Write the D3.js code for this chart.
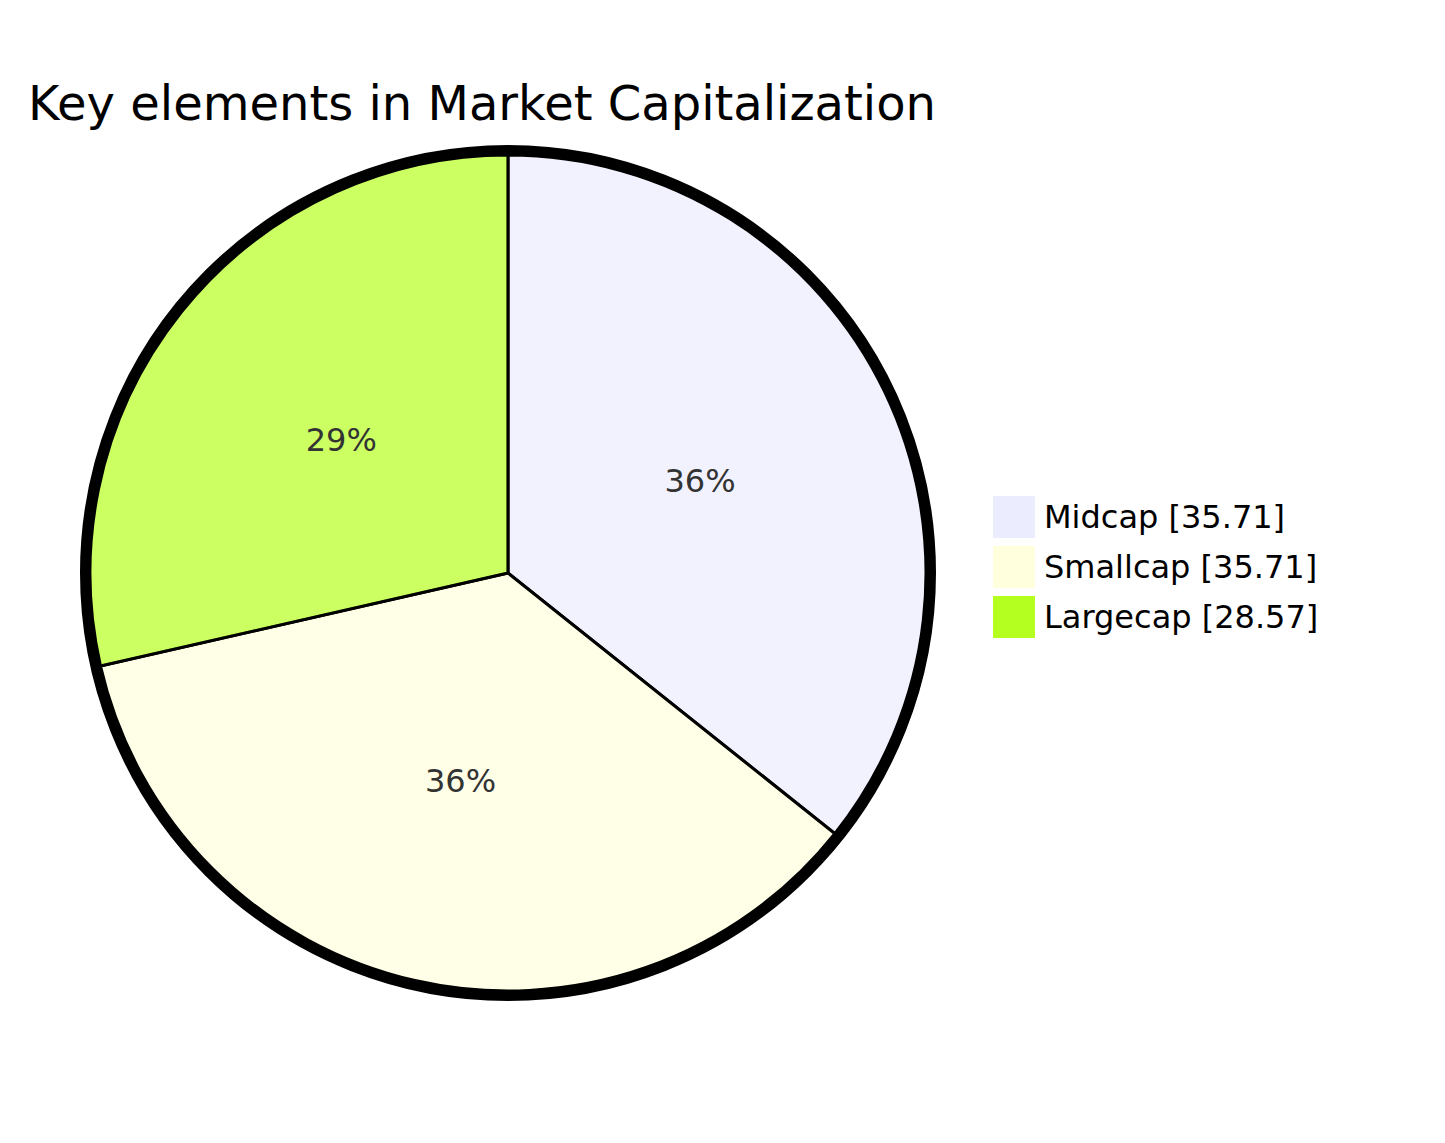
<!DOCTYPE html>
<html><head><meta charset="utf-8">
<script src="https://cdn.jsdelivr.net/npm/d3@7"></script>
<style>body{margin:0;background:#fff}svg{font-family:"DejaVu Sans",sans-serif}</style>
</head><body>
<svg id="chart" width="1445" height="1143"></svg>
<script>
// pie data
let labels = ["Midcap", "Smallcap", "Largecap"];
let values = [35.71, 35.71, 28.57];
let colors = ["#ececff", "#ffffde", "#b5ff20"];

let svg = d3.select('#chart');
let cx = 508, cy = 573, r = 418;

svg.append('text').attr('x', 28).attr('y', 120)
  .attr('font-size', 48).attr('fill', '#000')
  .text('Key elements in Market Capitalization');

let g = svg.append('g').attr('transform', `translate(${cx},${cy})`);
g.append('circle').attr('r', r + 5).attr('fill', 'none')
  .attr('stroke', '#000').attr('stroke-width', 10);

let data = labels.map((l, i) => ({label: l, value: values[i], color: colors[i]}));
let pie = d3.pie().value(d => d.value).sort(null);
let arc = d3.arc().innerRadius(0).outerRadius(r);
let labelArc = d3.arc().innerRadius(r * 0.51).outerRadius(r * 0.51);
let total = d3.sum(values);

g.selectAll('path.slice').data(pie(data)).join('path')
  .attr('d', arc).attr('fill', d => d.data.color).attr('fill-opacity', 0.7)
  .attr('stroke', '#000').attr('stroke-width', 3);

g.selectAll('text.pct').data(pie(data)).join('text')
  .attr('transform', d => `translate(${labelArc.centroid(d)})`)
  .attr('text-anchor', 'middle').attr('dy', '0.35em')
  .attr('font-size', 32).attr('fill', '#333')
  .text(d => Math.round(d.data.value / total * 100) + '%');

let lg = svg.append('g').attr('transform', 'translate(993,496)');
let item = lg.selectAll('g').data(data).join('g')
  .attr('transform', (d, i) => `translate(0,${i * 50})`);
item.append('rect').attr('width', 42).attr('height', 42).attr('fill', d => d.color);
item.append('text').attr('x', 51).attr('y', 21).attr('dy', '0.35em')
  .attr('font-size', 32).attr('fill', '#000')
  .text(d => `${d.label} [${d.value.toFixed(2)}]`);
</script>
</body></html>
